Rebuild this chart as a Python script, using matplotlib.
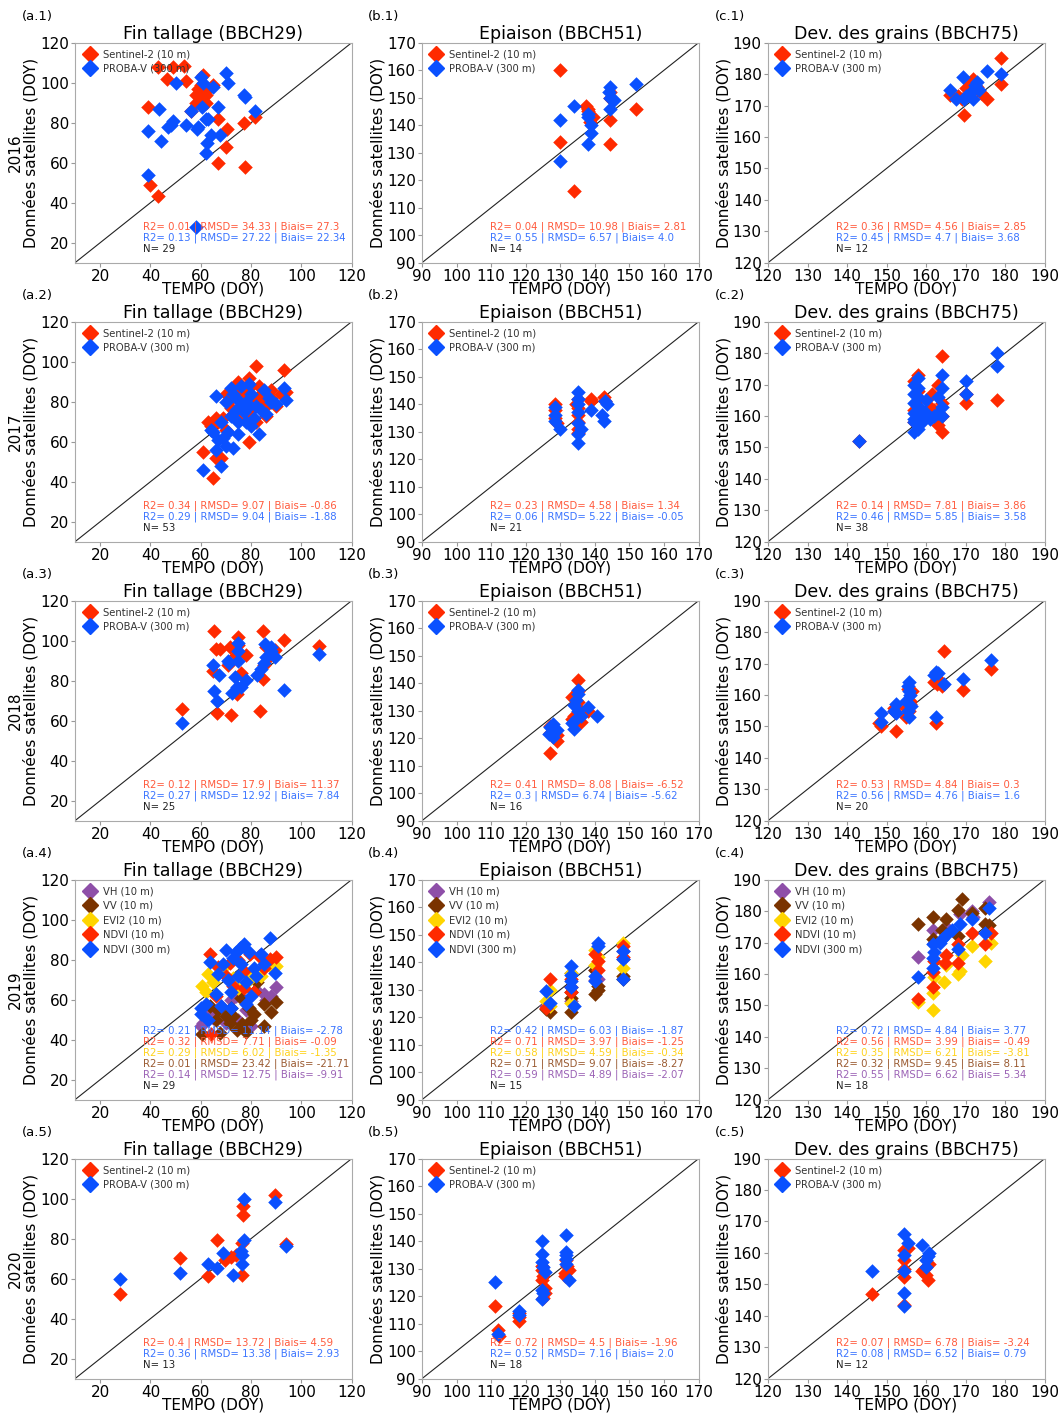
import matplotlib
matplotlib.use("Agg")
import matplotlib.pyplot as plt
from matplotlib.lines import Line2D

# ---- data (TEMPO DOY, satellite DOY) ----
years = ["2016", "2017", "2018", "2019", "2020"]
stages = ["Fin tallage (BBCH29)", "Epiaison (BBCH51)", "Dev. des grains (BBCH75)"]
limits = [(10, 120), (90, 170), (120, 190)]
tick_steps = [20, 10, 10]

# 2016
s2_2016_a = [(39, 88), (40, 49), (43, 43.5), (43, 108), (46.5, 102), (49, 108), (53.5, 108.5), (54, 101),
             (56, 86), (58, 94), (60, 92), (61, 96), (60, 99), (62, 94), (59, 97), (61, 104), (62, 90),
             (65, 99), (67, 82), (67, 60), (70.5, 77), (70, 68), (77, 80), (77.5, 58), (81.5, 83),
             (60, 95), (63, 97), (58, 90), (61, 93)]
pv_2016_a = [(39, 76), (39, 54), (43.5, 87), (44, 71), (47, 78), (49, 81), (50, 100), (54, 79), (56, 86),
             (59, 78), (60, 103), (60.5, 88), (62, 82), (62.5, 70), (62, 65), (64, 74), (65, 98), (67, 88),
             (67.5, 74), (70, 105), (71, 100), (77, 94), (77.5, 93), (81.5, 86), (58, 28), (61, 100),
             (48, 79), (58.5, 77), (63, 82)]
s2_2016_b = [(130, 160), (130, 134), (134, 116), (137.5, 147), (138, 145), (139.5, 143), (144.5, 152),
             (144.5, 142), (144.5, 133), (145, 149), (152, 146), (138.5, 141), (144.5, 150), (138, 146)]
pv_2016_b = [(130, 142), (130, 127), (134, 147), (138, 143), (138, 133), (139, 137), (139, 140),
             (144.5, 154), (144.5, 150), (145.5, 149), (144.5, 146), (152, 155), (138, 144), (144, 152)]
s2_2016_c = [(179, 185), (179, 177), (175.5, 172), (169.5, 167), (166, 173.5), (168, 173), (171, 177),
             (172, 178.5), (170, 175.5), (173, 176), (174, 174), (169, 172)]
pv_2016_c = [(166, 175), (169.3, 179), (175.4, 181), (179, 180), (167.5, 172), (169.5, 172), (172, 172),
             (172.5, 176.5), (173.5, 175), (171, 174), (170, 173), (173, 177.5)]

# 2017
s2_2017_a = [(82, 98), (93, 96), (75, 90), (79, 92), (83, 88), (94, 85), (61, 55), (65, 42), (68, 52),
             (66, 72), (63, 70), (79, 60), (86, 73), (90, 78), (72, 77), (75, 71), (70, 84), (85, 80),
             (88, 82), (78, 84), (74, 86), (77, 80), (80, 76), (82, 70), (70, 66), (67, 70), (73, 74),
             (76, 86), (84, 84), (88, 86), (66, 52), (64, 68), (71, 80), (81, 81), (74, 88), (92, 84),
             (69, 72), (78, 74), (86, 78), (80, 88)]
pv_2017_a = [(61, 46), (66, 83), (64, 66), (68, 48), (73, 57), (67, 61), (83, 64), (93, 87), (94, 81),
             (90, 79), (79, 89), (72, 87), (70, 80), (74, 82), (76, 78), (78, 80), (80, 84), (82, 78),
             (85, 86), (87, 82), (72, 73), (75, 70), (77, 75), (71, 65), (69, 62), (66, 56), (78, 70),
             (81, 72), (84, 76), (86, 74), (88, 80), (73, 84), (76, 88), (68, 70), (65, 65), (70, 58),
             (75, 64), (80, 68), (74, 76), (79, 78)]
s2_2017_b = [(128.5, 140), (128.5, 135), (135, 129.5), (139, 142), (142.5, 142.5), (135, 138.5),
             (135, 133.5), (135, 142), (129, 133), (135, 136), (143, 141), (135, 131), (134.5, 140),
             (139, 141), (128.5, 138)]
pv_2017_b = [(128.5, 139), (130, 131), (135, 144.5), (135, 126), (135, 137), (135, 133), (135, 140),
             (139, 138), (142, 136), (142.5, 134), (143.5, 140), (128.5, 134), (135, 129), (135, 142),
             (136, 131), (128.5, 136), (143, 141)]
s2_2017_c = [(143, 152), (158, 173), (164, 179), (164, 155), (163, 157), (170, 164), (170, 167), (178, 165),
             (161.5, 167), (157, 171), (158, 165), (162, 162), (160, 160), (157, 158), (164, 164),
             (163, 170), (158, 168), (161, 163), (157, 162), (164, 160)]
pv_2017_c = [(143, 152), (178, 180), (178, 176), (170, 171), (170, 167), (164, 173), (164, 169), (164, 160),
             (157, 155), (157, 158), (157, 161), (157, 164), (157, 167), (157, 170), (158, 156), (158, 160),
             (158, 163), (158, 166), (158, 169), (159, 162), (159, 158), (160, 165), (160, 161), (161, 159),
             (163, 166), (162, 160), (164, 163), (158, 172), (163, 161), (157, 159)]

# 2018
s2_2018_a = [(52.5, 66), (65.3, 105), (67.7, 96), (71.7, 97), (66.3, 64), (72.2, 63), (75, 101.7),
             (74.4, 73.3), (78, 93), (84.6, 105), (84.6, 81), (83.5, 64.7), (89.4, 95.3), (93.2, 100.3),
             (107, 97.5), (64.7, 85), (75, 98), (74, 93), (86, 97), (87, 92), (71, 88), (76, 84),
             (85, 88), (66, 96), (88, 94)]
pv_2018_a = [(52.4, 59), (65, 88), (65.3, 74.7), (66.3, 70), (67.4, 83), (71.2, 88.7), (73.6, 82),
             (72.3, 73.7), (74.7, 99), (75, 90), (74.4, 76.7), (78, 80.3), (82.4, 83), (85, 89),
             (85.7, 98.3), (87.8, 95), (89.4, 91.7), (93.2, 75.3), (107, 93.3), (75, 95), (86, 92),
             (88, 97), (84, 86), (76, 77), (71, 90)]
s2_2018_b = [(127, 114.5), (129, 119), (127, 124.5), (135, 141), (133.5, 135), (135, 131), (133.5, 127),
             (138, 130), (134, 128), (135, 133), (128, 123), (136, 126), (134, 125), (127, 122),
             (135, 137), (129, 121)]
pv_2018_b = [(126.7, 121.5), (128, 125), (129, 123), (134, 123.3), (134.5, 134), (135, 137.5), (138, 131.5),
             (140.7, 128.2), (134.5, 127), (128, 120.5), (135, 130), (134, 132), (127, 124), (135, 136),
             (136, 128), (133.5, 125.5)]
s2_2018_c = [(148.5, 150), (152.3, 148.6), (155.7, 154.8), (156.4, 161.2), (162.5, 151), (162.8, 163.5),
             (164.5, 174), (169.3, 161.6), (176.4, 168.3), (156, 158), (155, 156), (152, 155), (148, 151),
             (163, 165), (155.5, 162), (156, 157), (162, 164), (152, 156), (155, 153), (164, 163)]
pv_2018_c = [(148.5, 154.2), (148.5, 151.3), (152.3, 157.1), (152.3, 154.2), (155.7, 164), (155.7, 161.4),
             (155.7, 153), (156.3, 156.5), (162.5, 167.2), (162.5, 153.1), (164.5, 163.5), (169.3, 165.1),
             (176.4, 171.1), (155.5, 163), (163, 167), (155, 158), (156, 160), (155.5, 155), (162, 166.5),
             (152, 155)]

# 2019 (five products)
vh_2019_a = [(90, 66.5), (85, 63), (88, 62), (80, 71), (65, 51), (61, 48.5), (70, 48.5), (75, 50), (60, 47),
             (72, 60), (82, 65), (78, 55), (68, 57), (86, 60), (63, 55), (74, 62), (80, 47)]
vv_2019_a = [(60.5, 43), (63.5, 57), (67, 55), (67.5, 43.5), (71.5, 48.5), (73, 52), (74.5, 45), (76, 61),
             (79, 56), (81, 53), (82.5, 69), (85, 47), (88, 54), (90, 59), (81, 64), (76.5, 48), (70, 52),
             (78, 44), (85, 58), (72, 56), (66, 50), (80, 50)]
evi_2019_a = [(60.5, 67), (63, 73), (73, 71), (79.5, 71), (87.5, 77), (90, 77), (79, 70), (65, 69),
              (69, 76), (84, 72), (75, 66), (62, 64)]
nd10_2019_a = [(63.5, 83), (71.5, 78.5), (77, 74.5), (79.5, 83), (85, 76), (90, 81.5), (87.5, 80.5),
               (67, 76.5), (73, 67), (81, 64), (66, 62), (75, 80), (83, 82), (70, 72), (77, 66), (64, 43)]
nd300_2019_a = [(87.5, 91), (89.5, 73.5), (60, 56), (63.5, 79), (67, 73), (70, 85), (73, 81), (75.5, 86),
                (77, 88), (79, 84), (81, 76), (78, 69), (78, 58), (72, 64), (68, 57), (60, 53), (63, 50),
                (72, 56), (84, 83), (76, 78), (74, 84), (82, 72), (66, 63), (71, 70), (80, 62), (85, 78),
                (69, 78), (62, 58), (75, 72)]
vh_2019_b = [(140, 133.5), (133, 136), (148, 141), (141, 134), (126, 124), (133, 126), (148, 144), (140, 137)]
vv_2019_b = [(126, 123), (127, 122), (133, 122), (133, 127), (133, 129), (140, 128.5), (141, 130), (140, 137),
             (148, 135), (148, 134), (141, 131.5)]
evi_2019_b = [(126, 126), (127, 130), (133, 125), (133, 136), (140, 144.5), (140, 139), (148, 147), (148, 138),
              (141, 142), (127, 124)]
nd10_2019_b = [(127, 134), (126, 123.5), (133, 129), (133, 134), (140, 143), (141, 140.5), (148, 146),
               (148, 142), (133, 131), (141, 137)]
nd300_2019_b = [(126, 129.5), (127, 125), (133, 138.5), (133, 135.5), (133, 133), (134, 124), (141, 147),
                (140, 135), (140, 133), (148, 144), (148, 141), (148, 134), (141, 146), (133, 131)]
vh_2019_c = [(158, 165.5), (161.7, 174), (162, 170), (168.5, 179), (171.5, 180), (176, 183), (165, 175),
             (172, 178)]
vv_2019_c = [(158, 176), (161.7, 178), (165, 177.5), (168, 180.5), (169, 184), (171.5, 179.5), (175, 181),
             (176, 175.5), (161.7, 171), (164, 174), (168, 172), (175, 176)]
evi_2019_c = [(158, 151), (161.7, 154), (161.7, 148.5), (164.5, 157.5), (168, 160), (168.5, 161),
              (171.5, 169), (175, 164), (176.5, 170), (169, 166), (162, 159), (165, 163)]
nd10_2019_c = [(158, 152), (161.7, 156), (161.7, 160.5), (164.7, 163.5), (168, 163.5), (168, 169.5),
               (171.5, 173), (175, 169.5), (176.5, 173), (165, 166), (162, 164)]
nd300_2019_c = [(158, 159), (161.7, 169.5), (161.7, 165), (161.7, 162), (165, 172.5), (168.5, 176),
                (168, 168), (171.5, 177.5), (175, 173), (176, 181), (163.5, 170), (166.5, 174), (162, 167),
                (164, 171)]

# 2020
s2_2020_a = [(28, 52.5), (51.6, 70.5), (63, 61.2), (66.3, 79.2), (69.6, 69.2), (72.2, 70.8), (76.3, 61.7),
             (76.8, 96.2), (76.8, 91.7), (76.5, 77.8), (89.7, 101.7), (93.7, 77.2), (74, 72)]
pv_2020_a = [(28, 60), (51.6, 62.8), (63, 67.2), (66.3, 65.5), (69, 72.8), (72.8, 61.7), (76.3, 71.7),
             (76.3, 67.2), (77, 100), (77, 79.5), (89.7, 98.3), (93.7, 76.2), (76, 74)]
s2_2020_b = [(111, 116.3), (112, 107.6), (112.4, 105.4), (118, 113.9), (118, 111), (124.7, 129.6),
             (124.7, 126), (125, 119.5), (125.5, 121.2), (131.4, 127.2), (132.5, 129.4), (131.6, 133),
             (124.7, 131), (125, 127.5), (132, 131), (131.5, 128.5), (118, 112.5), (125.5, 123)]
pv_2020_b = [(111, 125.2), (112, 106.4), (118, 113), (124.7, 140), (124.7, 135.5), (124.7, 132.4),
             (124.7, 122.4), (124.7, 119), (125.7, 128.8), (131.6, 142.1), (131.6, 136), (131.6, 133.6),
             (131.6, 131.8), (132.5, 126), (118, 114.5), (125, 130.5), (131.6, 134.8), (125, 121)]
s2_2020_c = [(146.3, 146.8), (154.3, 161), (154.3, 157.7), (154.3, 152.4), (154.3, 143.3), (155.3, 161.5),
             (158.9, 154.3), (160.6, 151.3), (160.8, 156.6), (160, 153), (154.5, 155), (159.5, 155)]
pv_2020_c = [(146.3, 154.3), (154.3, 166.1), (154.3, 159.2), (154.3, 154.3), (154.3, 147.1), (154.3, 143),
             (155.3, 163), (158.9, 162.4), (160.8, 160), (160.1, 157.7), (160.5, 159), (160, 155.5)]

# stats text per panel: (R2, RMSD, Biais) per series, then N
stats_2016 = [[("0.01", "34.33", "27.3"), ("0.13", "27.22", "22.34")],
              [("0.04", "10.98", "2.81"), ("0.55", "6.57", "4.0")],
              [("0.36", "4.56", "2.85"), ("0.45", "4.7", "3.68")]]
stats_2017 = [[("0.34", "9.07", "-0.86"), ("0.29", "9.04", "-1.88")],
              [("0.23", "4.58", "1.34"), ("0.06", "5.22", "-0.05")],
              [("0.14", "7.81", "3.86"), ("0.46", "5.85", "3.58")]]
stats_2018 = [[("0.12", "17.9", "11.37"), ("0.27", "12.92", "7.84")],
              [("0.41", "8.08", "-6.52"), ("0.3", "6.74", "-5.62")],
              [("0.53", "4.84", "0.3"), ("0.56", "4.76", "1.6")]]
# 2019 order of text lines: NDVI300, NDVI10, EVI2, VV, VH
stats_2019 = [[("0.21", "11.14", "-2.78"), ("0.32", "7.71", "-0.09"), ("0.29", "6.02", "-1.35"),
               ("0.01", "23.42", "-21.71"), ("0.14", "12.75", "-9.91")],
              [("0.42", "6.03", "-1.87"), ("0.71", "3.97", "-1.25"), ("0.58", "4.59", "-0.34"),
               ("0.71", "9.07", "-8.27"), ("0.59", "4.89", "-2.07")],
              [("0.72", "4.84", "3.77"), ("0.56", "3.99", "-0.49"), ("0.35", "6.21", "-3.81"),
               ("0.32", "9.45", "8.11"), ("0.55", "6.62", "5.34")]]
stats_2020 = [[("0.4", "13.72", "4.59"), ("0.36", "13.38", "2.93")],
              [("0.72", "4.5", "-1.96"), ("0.52", "7.16", "2.0")],
              [("0.07", "6.78", "-3.24"), ("0.08", "6.52", "0.79")]]
n_2016 = [29, 14, 12]
n_2017 = [53, 21, 38]
n_2018 = [25, 16, 20]
n_2019 = [29, 15, 18]
n_2020 = [13, 18, 12]

RED = "#ff2a00"
BLUE = "#0a50ff"
PURPLE = "#8e4fa8"
BROWN = "#7a3300"
GOLD = "#ffd500"
RED_T = "#ff5a3c"
BLUE_T = "#3a74ff"
PURPLE_T = "#9b62b5"
BROWN_T = "#9a5a30"
GOLD_T = "#ffd21a"

two_series = [("Sentinel-2 (10 m)", RED, RED_T), ("PROBA-V (300 m)", BLUE, BLUE_T)]
five_series = [("VH (10 m)", PURPLE), ("VV (10 m)", BROWN), ("EVI2 (10 m)", GOLD),
               ("NDVI (10 m)", RED), ("NDVI (300 m)", BLUE)]
five_text_colors = [BLUE_T, RED_T, GOLD_T, BROWN_T, PURPLE_T]

rows = [
    ([s2_2016_a, pv_2016_a], [s2_2016_b, pv_2016_b], [s2_2016_c, pv_2016_c]),
    ([s2_2017_a, pv_2017_a], [s2_2017_b, pv_2017_b], [s2_2017_c, pv_2017_c]),
    ([s2_2018_a, pv_2018_a], [s2_2018_b, pv_2018_b], [s2_2018_c, pv_2018_c]),
    ([vh_2019_a, vv_2019_a, evi_2019_a, nd10_2019_a, nd300_2019_a],
     [vh_2019_b, vv_2019_b, evi_2019_b, nd10_2019_b, nd300_2019_b],
     [vh_2019_c, vv_2019_c, evi_2019_c, nd10_2019_c, nd300_2019_c]),
    ([s2_2020_a, pv_2020_a], [s2_2020_b, pv_2020_b], [s2_2020_c, pv_2020_c]),
]
all_stats = [stats_2016, stats_2017, stats_2018, stats_2019, stats_2020]
all_n = [n_2016, n_2017, n_2018, n_2019, n_2020]

fig = plt.figure(figsize=(10.64, 14.14), dpi=100)

lefts = [0.0705, 0.3966, 0.7218]
width, height = 0.260, 0.1556
top_bottom = 0.8142
pitch = 0.1973
MS = 55

for r in range(5):
    bottom = top_bottom - r * pitch
    for c in range(3):
        ax = fig.add_axes([lefts[c], bottom, width, height])
        lo, hi = limits[c]
        ax.plot([lo, hi], [lo, hi], color="#222222", lw=0.8, zorder=1)
        series = rows[r][c]
        handles = []
        if len(series) == 2:
            for pts, (lab, col, _) in zip(series, two_series):
                ax.scatter([p[0] for p in pts], [p[1] for p in pts], marker="D", s=MS,
                           color=col, linewidths=0, zorder=2)
                handles.append(Line2D([], [], marker="D", ls="", color=col, markersize=8.5, label=lab))
            lines = [(f"R2= {a} | RMSD= {b} | Biais= {d}", tc)
                     for (a, b, d), (_, _, tc) in zip(all_stats[r][c], two_series)]
        else:
            for pts, (lab, col) in zip(series, five_series):
                ax.scatter([p[0] for p in pts], [p[1] for p in pts], marker="D", s=MS,
                           color=col, linewidths=0, zorder=2)
                handles.append(Line2D([], [], marker="D", ls="", color=col, markersize=8.5, label=lab))
            lines = [(f"R2= {a} | RMSD= {b} | Biais= {d}", tc)
                     for (a, b, d), tc in zip(all_stats[r][c], five_text_colors)]
        lines.append((f"N= {all_n[r][c]}", "#222222"))

        leg = ax.legend(handles=handles, loc="upper left", frameon=False, fontsize=7.2,
                        handletextpad=0.5, borderaxespad=0.25, labelspacing=0.45,
                        handlelength=1.6)
        for t in leg.get_texts():
            t.set_color("#333333")

        nl = len(lines)
        for i, (txt, tc) in enumerate(lines):
            y = 0.064 + (nl - 1 - i) * 0.05
            ax.text(0.245, y, txt, transform=ax.transAxes, fontsize=7.3, color=tc, va="center", ha="left")

        ax.set_xlim(lo, hi)
        ax.set_ylim(lo, hi)
        step = tick_steps[c]
        first = lo if lo % step == 0 else lo + (step - lo % step)
        ticks = list(range(first, hi + 1, step))
        ax.set_xticks(ticks)
        ax.set_yticks(ticks)
        ax.tick_params(labelsize=11, length=3, pad=1.5, color="#999999")
        for s in ax.spines.values():
            s.set_color("#aaaaaa")
        ax.set_title(stages[c], fontsize=12.5, pad=2)
        ax.set_xlabel("TEMPO (DOY)", fontsize=11, labelpad=-1.5)
        if c == 0:
            ax.set_ylabel(years[r] + "\nDonnées satellites (DOY)", fontsize=11, labelpad=1,
                          linespacing=1.0)
        else:
            ax.set_ylabel("Données satellites (DOY)", fontsize=11, labelpad=1)

    for c, lx in enumerate([0.0207, 0.346, 0.672]):
        fig.text(lx, 0.9885 - r * pitch, f"({'abc'[c]}.{r + 1})", fontsize=9.5, va="center", ha="left")

fig.savefig("out.png", dpi=100)
